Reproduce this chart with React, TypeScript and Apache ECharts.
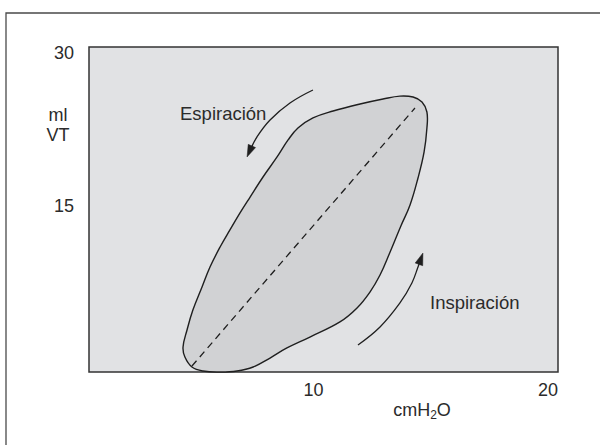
import React, { useEffect, useRef } from "react";
import * as echarts from "echarts";

// Pressure (cmH2O) / volume (ml) loop outline
const loopX = [4.01, 4.09, 4.39, 4.86, 5.59, 6.31, 7.0, 7.72, 8.44, 9.42, 10.7, 11.43, 11.98, 12.41, 12.84, 13.3, 13.69, 14.03, 14.29, 14.41, 14.41, 14.2, 13.82, 13.26, 12.54, 11.56, 10.41, 9.55, 8.91, 8.49, 8.02, 7.42, 6.87, 6.44, 6.01, 5.59, 5.16, 4.82, 4.43, 4.18];
const loopY = [2.31, 1.38, 0.46, 0.09, 0.0, 0.09, 0.46, 1.29, 2.22, 3.23, 4.62, 5.91, 7.38, 8.95, 11.08, 13.48, 15.42, 17.91, 20.31, 22.52, 24.0, 24.92, 25.38, 25.47, 25.2, 24.74, 24.09, 23.45, 22.52, 21.42, 19.85, 18.0, 16.15, 14.68, 13.11, 11.54, 9.69, 7.85, 5.72, 3.88];

// Dashed compliance line
const complianceX = [4.39, 13.9];
const complianceY = [0.55, 24.37];

// Direction arrows
const expArrowX = [9.55, 8.57, 7.72, 7.16, 6.87, 6.74];
const expArrowY = [26.03, 24.83, 23.26, 21.69, 20.49, 19.85];
const insArrowX = [11.47, 12.41, 13.26, 13.77, 14.03, 14.24];
const insArrowY = [2.49, 4.15, 6.37, 8.22, 9.69, 10.98];

const xTicks = [10, 20];
const yTicks = [15, 30];
const expLabel = "Espiración";
const insLabel = "Inspiración";
const yName = "ml\nVT";

const FONT = "'Liberation Sans', Arial, Helvetica, sans-serif";
const TXT = "#2b2b2b";

export default function App() {
  const ref = useRef<HTMLDivElement>(null);
  useEffect(() => {
    if (!ref.current) return;
    const chart = echarts.init(ref.current, null, { renderer: "svg" });
    const loopData = loopX.map((x, i) => [x, loopY[i]]);
    const arrows = [
      { xs: expArrowX, ys: expArrowY },
      { xs: insArrowX, ys: insArrowY },
    ];
    chart.setOption({
      animation: false,
      backgroundColor: "#ffffff",
      grid: {
        left: 89,
        top: 47,
        right: 42,
        bottom: 73,
        show: true,
        backgroundColor: "#e1e2e4",
        borderColor: "#333333",
        borderWidth: 1.5,
      },
      xAxis: {
        type: "value",
        min: 0,
        max: 20,
        interval: 10,
        axisLine: { show: false },
        axisTick: { show: false },
        splitLine: { show: false },
        axisLabel: {
          showMinLabel: false,
          align: "right",
          margin: 9,
          fontSize: 18,
          fontFamily: FONT,
          color: TXT,
          formatter: (v: number) => (xTicks.includes(v) ? String(v) : ""),
        },
      },
      yAxis: {
        type: "value",
        min: 0,
        max: 30,
        interval: 15,
        axisLine: { show: false },
        axisTick: { show: false },
        splitLine: { show: false },
        axisLabel: {
          showMinLabel: false,
          margin: 15,
          fontSize: 18,
          fontFamily: FONT,
          color: TXT,
          formatter: (v: number) =>
            yTicks.includes(v) ? (v === 30 ? `{t|${v}}` : `{m|${v}}`) : "",
          rich: {
            t: { fontSize: 18, fontFamily: FONT, color: TXT, padding: [12, 0, 0, 0] },
            m: { fontSize: 18, fontFamily: FONT, color: TXT, padding: [0, 0, 8, 0] },
          },
        },
      },
      series: [
        {
          type: "custom",
          data: [0],
          silent: true,
          z: 2,
          renderItem: (params: any, api: any) => {
            const pts = loopData.map((p) => api.coord(p));
            return {
              type: "polygon",
              shape: { points: pts, smooth: 0.4 },
              style: { fill: "#d1d2d4", stroke: "#1f1f1f", lineWidth: 1.4 },
            };
          },
        },
        {
          type: "line",
          data: complianceX.map((x, i) => [x, complianceY[i]]),
          symbol: "none",
          z: 3,
          lineStyle: { color: "#1f1f1f", width: 1.3, type: [7, 5] },
        },
        {
          type: "custom",
          data: [0, 1],
          silent: true,
          z: 3,
          renderItem: (params: any, api: any) => {
            const a = arrows[params.dataIndex];
            const pts = a.xs.map((x, i) => api.coord([x, a.ys[i]]));
            const tip = pts[pts.length - 1];
            const prev = pts[pts.length - 2];
            const dx = tip[0] - prev[0];
            const dy = tip[1] - prev[1];
            const len = Math.sqrt(dx * dx + dy * dy) || 1;
            const ux = dx / len, uy = dy / len;
            const hl = 12, hw = 4;
            const bx = tip[0] - ux * hl, by = tip[1] - uy * hl;
            const head = [
              tip,
              [bx - uy * hw, by + ux * hw],
              [bx + uy * hw, by - ux * hw],
            ];
            const linePts = pts.slice(0, pts.length - 1).concat([[bx + ux * 3, by + uy * 3]]);
            return {
              type: "group",
              children: [
                {
                  type: "polyline",
                  shape: { points: linePts, smooth: 0.4 },
                  style: { stroke: "#1f1f1f", lineWidth: 1.3, fill: null },
                },
                {
                  type: "polygon",
                  shape: { points: head },
                  style: { fill: "#1f1f1f", stroke: "#1f1f1f", lineWidth: 0.5 },
                },
              ],
            };
          },
        },
      ],
      graphic: [
        {
          type: "rect",
          silent: true,
          shape: { x: 6, y: 13, width: 700, height: 500 },
          style: { fill: null, stroke: "#4a4a4a", lineWidth: 1.3 },
          z: -1,
        },
        {
          type: "text",
          x: 58,
          y: 125,
          style: {
            text: yName,
            fontSize: 18,
            fontFamily: FONT,
            fill: TXT,
            align: "center",
            verticalAlign: "middle",
            lineHeight: 20,
          },
        },
        {
          type: "text",
          x: 180,
          y: 113,
          style: {
            text: expLabel,
            fontSize: 18.5,
            fontFamily: FONT,
            fill: TXT,
            align: "left",
            verticalAlign: "middle",
          },
        },
        {
          type: "text",
          x: 430,
          y: 302,
          style: {
            text: insLabel,
            fontSize: 18.5,
            fontFamily: FONT,
            fill: TXT,
            align: "left",
            verticalAlign: "middle",
          },
        },
        {
          type: "text",
          x: 422,
          y: 410,
          style: {
            text: "{a|cmH}{s|2}{a|O}",
            align: "center",
            verticalAlign: "middle",
            rich: {
              a: { fontSize: 18, fontFamily: FONT, fill: TXT, color: TXT, lineHeight: 22, verticalAlign: "middle" },
              s: { fontSize: 12, fontFamily: FONT, fill: TXT, color: TXT, lineHeight: 12, verticalAlign: "bottom" },
            },
          },
        },
      ],
    });
    return () => chart.dispose();
  }, []);
  return (
    <div
      ref={ref}
      style={{ position: "fixed", left: 0, top: 0, width: 600, height: 445, background: "#fff" }}
    />
  );
}
